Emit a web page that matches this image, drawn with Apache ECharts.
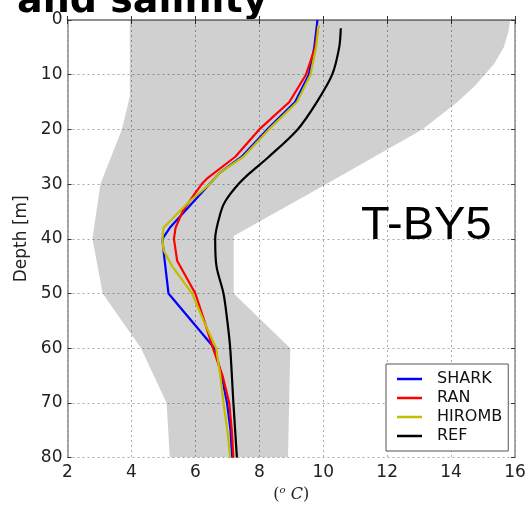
<!DOCTYPE html>
<html>
<head>
<meta charset="utf-8">
<script src="https://cdn.jsdelivr.net/npm/echarts@6/dist/echarts.min.js"></script>
<style>
  html, body { margin: 0; padding: 0; background: #fff; }
  #chart { width: 529px; height: 508px; }
</style>
</head>
<body>
<div id="chart"></div>
<script>
// x ticks / y ticks
var tempTicks = [2, 4, 6, 8, 10, 12, 14, 16];
var depthTicks = [0, 10, 20, 30, 40, 50, 60, 70, 80];

// envelope (grey band): left and right edge, [temp, depth]
var bandLeft = [[3.95, 0], [3.95, 14], [3.7, 20], [3.03, 30], [2.78, 40], [3.1, 50], [4.3, 60], [5.1, 70], [5.2, 80]];
var bandRight = [[15.85, 0], [15.8, 2], [15.65, 5], [15.35, 8], [15.05, 10], [14.75, 12], [14.2, 15], [13.1, 20],
  [10.1, 30], [7.2, 39.5], [7.2, 50], [8.97, 60], [8.9, 80]];

// profiles: depth levels and temperatures
var sharkDepth = [0, 5, 10, 15, 20, 25, 28, 38, 40, 42, 50, 60, 65, 70, 75, 80];
var sharkTemp = [9.82, 9.72, 9.55, 9.12, 8.25, 7.45, 6.75, 5.2, 4.97, 5.0, 5.16, 6.6, 6.82, 6.99, 7.1, 7.15];

var ranDepth = [1, 5, 10, 15, 20, 25, 29, 30, 32, 35, 38, 40, 44, 50, 55, 60, 65, 70, 75, 80];
var ranTemp = [9.85, 9.75, 9.46, 8.94, 8.0, 7.25, 6.36, 6.2, 5.95, 5.6, 5.38, 5.33, 5.43, 6.0, 6.28, 6.55, 6.85, 7.06, 7.14, 7.19];

var hirombDepth = [1, 5, 10, 15, 20, 25, 28, 30, 33, 35, 38, 40, 42, 45, 50, 55, 60, 65, 70, 75, 80];
var hirombTemp = [9.85, 9.78, 9.6, 9.18, 8.3, 7.5, 6.75, 6.45, 5.85, 5.5, 5.0, 4.97, 5.0, 5.27, 5.9, 6.26, 6.65, 6.78, 6.88, 7.0, 7.09];

var refDepth = [1.5, 5, 10, 15, 20, 25, 28, 30, 33, 35, 40, 45, 50, 55, 60, 70, 80];
var refTemp = [10.55, 10.5, 10.28, 9.8, 9.2, 8.3, 7.7, 7.35, 6.95, 6.8, 6.62, 6.66, 6.88, 7.0, 7.09, 7.19, 7.3];

function pairs(t, d) {
  return t.map(function (v, i) { return [v, d[i]]; });
}

var bandPoly = bandLeft.concat(bandRight.slice().reverse());

var chart = echarts.init(document.getElementById('chart'));
var spine = '#8c8c8c';
var font = 'DejaVu Sans';

var axisBase = {
  type: 'value',
  axisLine: { show: true, lineStyle: { color: spine, width: 1.5 } },
  axisTick: { show: true, inside: true, length: 4, lineStyle: { color: '#333' } },
  splitLine: { show: false }
};

var option = {
  animation: false,
  backgroundColor: '#fff',
  grid: { left: 67.5, right: 14, top: 20, bottom: 48 },
  graphic: [
    { type: 'text', x: 17, y: -17, style: { text: 'and salinity', font: 'bold 38px "DejaVu Sans"', fill: '#000' } },
    { type: 'text', x: 361, y: 203, z: 10, style: { text: 'T-BY5', font: '47px "Liberation Sans"', fill: '#000' } }
  ],
  legend: {
    orient: 'vertical',
    left: 386, top: 364,
    padding: [7, 6, 7, 11],
    itemGap: 3,
    itemWidth: 25, itemHeight: 2.5,
    icon: 'rect',
    backgroundColor: '#fff',
    borderColor: '#555', borderWidth: 1, borderRadius: 0,
    textStyle: { fontFamily: font, fontSize: 16, color: '#111', padding: [0, 0, 0, 10] },
    data: ['SHARK', 'RAN', 'HIROMB', 'REF']
  },
  xAxis: [
    Object.assign({}, axisBase, {
      min: tempTicks[0], max: tempTicks[tempTicks.length - 1], interval: 2,
      position: 'bottom',
      splitLine: { show: true, lineStyle: { type: [2, 3], color: '#aaa', width: 1 } },
      axisLabel: { fontFamily: font, fontSize: 17, color: '#222', margin: 6 },
      name: '({s|o} {c|C})',
      nameLocation: 'middle', nameGap: 26,
      nameTextStyle: {
        fontFamily: 'DejaVu Serif', fontSize: 16, color: '#222',
        rich: {
          s: { fontFamily: 'DejaVu Serif', fontStyle: 'italic', fontSize: 10, color: '#222', padding: [0, 0, 9, 0] },
          c: { fontFamily: 'DejaVu Serif', fontStyle: 'italic', fontSize: 16, color: '#222' }
        }
      }
    }),
    Object.assign({}, axisBase, {
      min: 2, max: 16, interval: 2, position: 'top', axisLabel: { show: false }
    })
  ],
  yAxis: [
    Object.assign({}, axisBase, {
      min: depthTicks[0], max: depthTicks[depthTicks.length - 1], interval: 10,
      inverse: true, position: 'left',
      splitLine: { show: true, lineStyle: { type: [2, 3], color: '#aaa', width: 1 } },
      axisLabel: { fontFamily: font, fontSize: 17, color: '#222', margin: 5 },
      name: 'Depth [m]', nameLocation: 'middle', nameGap: 32, nameRotate: 90,
      nameTextStyle: { fontFamily: font, fontSize: 17, color: '#222' }
    }),
    Object.assign({}, axisBase, {
      min: 0, max: 80, interval: 10, inverse: true, position: 'right', axisLabel: { show: false }
    })
  ],
  series: [
    {
      type: 'custom',
      silent: true,
      z: 1,
      clip: true,
      data: bandPoly,
      encode: { x: 0, y: 1 },
      renderItem: function (params, api) {
        if (params.dataIndex !== 0) return null;
        var pts = bandPoly.map(function (p) { return api.coord(p); });
        return { type: 'polygon', shape: { points: pts }, style: { fill: 'rgba(0,0,0,0.185)' } };
      }
    },
    { name: 'SHARK', type: 'line', z: 3, data: pairs(sharkTemp, sharkDepth), showSymbol: false, color: '#0000ff', lineStyle: { width: 2.2 } },
    { name: 'RAN', type: 'line', z: 4, data: pairs(ranTemp, ranDepth), showSymbol: false, color: '#ff0000', lineStyle: { width: 2.2 } },
    { name: 'HIROMB', type: 'line', z: 5, data: pairs(hirombTemp, hirombDepth), showSymbol: false, color: '#bfbf00', lineStyle: { width: 2.2 } },
    { name: 'REF', type: 'line', z: 6, data: pairs(refTemp, refDepth), showSymbol: false, smooth: 0.3, color: '#000000', lineStyle: { width: 2.2 } }
  ]
};

chart.setOption(option);
</script>
</body>
</html>
